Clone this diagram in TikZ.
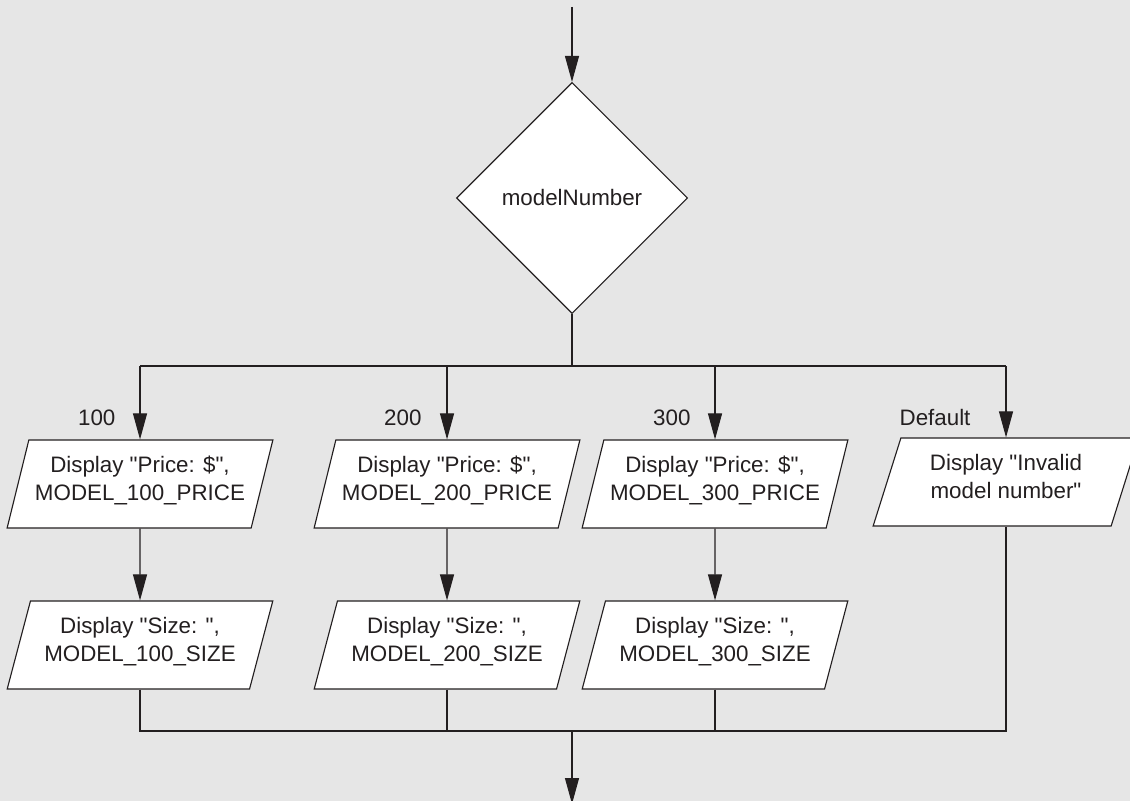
\documentclass[tikz,border=0pt]{standalone}
\usepackage{fontspec}
\setmainfont{Liberation Sans}[Ligatures=TeXOff]
\usetikzlibrary{positioning, arrows.meta, shapes.geometric, calc}
\definecolor{fBack}{HTML}{E6E6E6}
\definecolor{fInk}{HTML}{231F20}

\begin{document}
\begin{tikzpicture}[x=0.025cm, y=-0.025cm,
  line width=0.8pt, color=fInk,
  font=\fontsize{15.9}{19.9}\selectfont,
  decision/.style={diamond, draw, fill=white, aspect=1, inner sep=0pt,
                   minimum width=5.775cm, minimum height=5.775cm},
  iobox/.style={trapezium, trapezium left angle=72, trapezium right angle=108,
                trapezium stretches=true, draw, fill=white, align=center,
                text depth=0.3cm, minimum width=6.65cm, minimum height=2.2cm},
  flow/.style={-{Triangle[length=0.65cm, width=0.35cm]}},
  case/.style={anchor=east, inner sep=0pt},
]
  \useasboundingbox (0,0) rectangle (1130,801);
  \fill[fBack] (0,0) rectangle (1130,801);
  \clip (0,0) rectangle (1130,801);

  \node[decision] (model) at (572,198) {modelNumber};

  \node[iobox] (price1) at (140,484) {Display "Price: \$",\\MODEL\_100\_PRICE};
  \node[iobox] (price2) at (447,484) {Display "Price: \$",\\MODEL\_200\_PRICE};
  \node[iobox] (price3) at (715,484) {Display "Price: \$",\\MODEL\_300\_PRICE};
  \node[iobox] (invalid) at (1006,482) {Display "Invalid\\model number"};

  \node[iobox] (size1) at (140,645) {Display "Size: ",\\MODEL\_100\_SIZE};
  \node[iobox] (size2) at (447,645) {Display "Size: ",\\MODEL\_200\_SIZE};
  \node[iobox] (size3) at (715,645) {Display "Size: ",\\MODEL\_300\_SIZE};

  \node[case] (c100) at (116,418) {100};
  \node[case] (c200) at (422,418) {200};
  \node[case] (c300) at (691,418) {300};
  \node[case] (cdefault) at (971,418) {Default};

  \coordinate (start) at (572,7);
  \coordinate (split) at (572,366);
  \coordinate (join) at (572,731);
  \coordinate (finish) at (572,804);

  \draw[flow] (start) -- (model.north);
  \draw (model.south) -- (split);
  \draw (price1.north |- split) -- (invalid.north |- split);
  \foreach \n in {price1,price2,price3,invalid}
    \draw[flow] (\n.north |- split) -- (\n.north);
  \foreach \n in {1,2,3}
    \draw[flow] (price\n.south) -- (size\n.north);
  \draw (size1.south) -- (size1.south |- join) -- (invalid.south |- join)
        -- (invalid.south);
  \foreach \n in {2,3}
    \draw (size\n.south) -- (size\n.south |- join);
  \draw[flow] (join) -- (finish);
\end{tikzpicture}
\end{document}
